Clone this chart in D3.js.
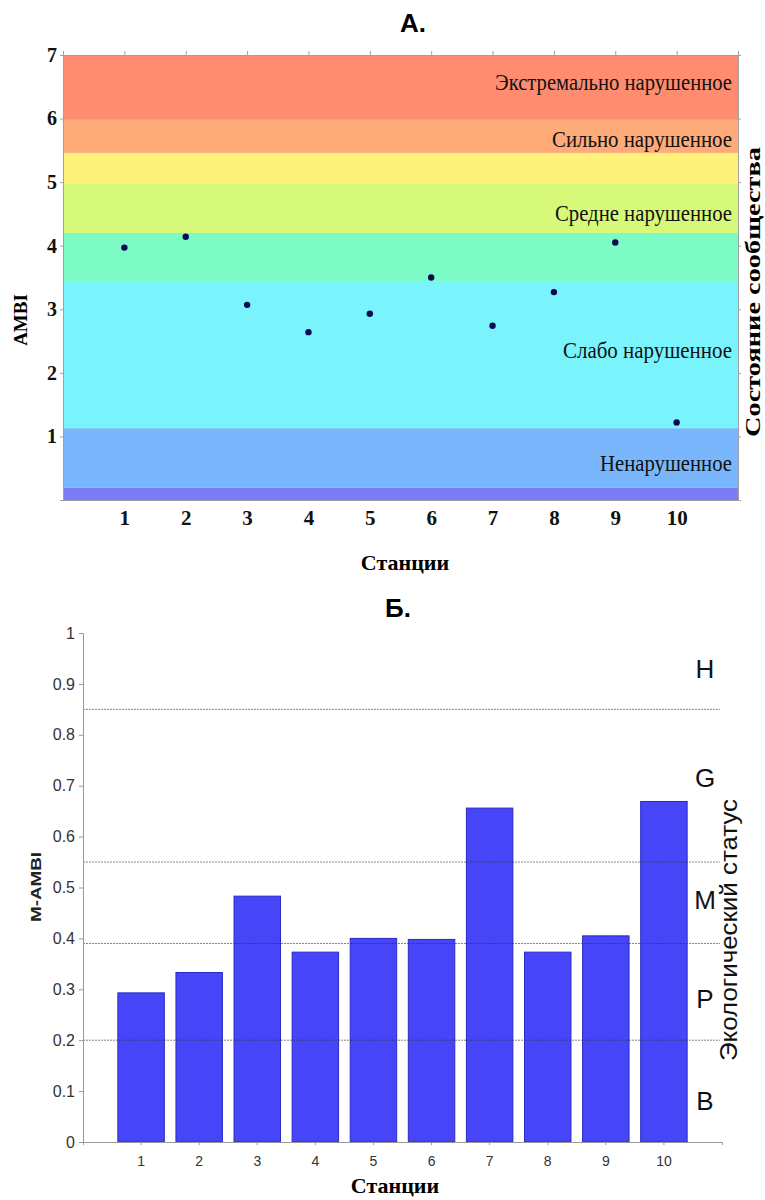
<!DOCTYPE html>
<html>
<head>
<meta charset="utf-8">
<script src="https://cdn.jsdelivr.net/npm/d3@7"></script>
<style>
  body { margin: 0; background: #fff; }
  svg { display: block; }
</style>
</head>
<body>
<div id="chart"></div>
<script>
// AMBI / M-AMBI by station: two stacked panels (А. and Б.)

// --- data ---
const stations = ['1', '2', '3', '4', '5', '6', '7', '8', '9', '10'];

// panel А: AMBI per station
const ambiValues = [3.97, 4.14, 3.07, 2.64, 2.93, 3.50, 2.74, 3.27, 4.05, 1.22];
const ambiTicks = [1, 2, 3, 4, 5, 6, 7];
// zone boundaries, bottom to top
const ambiZoneBreaks = [0, 0.19, 1.13, 3.43, 4.2, 4.97, 5.46, 5.98, 7];
const ambiZoneLabels = ['Экстремально нарушенное', 'Сильно нарушенное', 'Средне нарушенное', 'Слабо нарушенное', 'Ненарушенное'];
const ambiZoneLabelLevels = [6.45, 5.56, 4.39, 2.23, 0.46];

// panel Б: M-AMBI per station
const mambiValues = [0.293, 0.333, 0.483, 0.373, 0.400, 0.398, 0.656, 0.373, 0.405, 0.669];
const mambiTicks = [0, 0.1, 0.2, 0.3, 0.4, 0.5, 0.6, 0.7, 0.8, 0.9, 1];
const mambiTickLabels = ['0', '0.1', '0.2', '0.3', '0.4', '0.5', '0.6', '0.7', '0.8', '0.9', '1'];
const mambiThresholds = [0.2, 0.39, 0.55, 0.85];
const statusLetters = ['H', 'G', 'M', 'P', 'B'];
const statusLevels = [0.93, 0.715, 0.475, 0.28, 0.08];

// --- styles ---
const zoneColors = ['#7b7cf6', '#79b6fc', '#79f4fc', '#7cfbc6', '#d7f97a', '#fef27b', '#feab79', '#fe8c70'];
const serif = "'Liberation Serif', 'Times New Roman', serif";
const sans = "'Liberation Sans', Arial, sans-serif";

const svg = d3.select('#chart')
  .append('svg')
  .attr('width', 765)
  .attr('height', 1200)
  .attr('style', 'background-color:white');

// drawAmbiPanel()
// coloured zones with the station dots on top
function drawAmbiPanel(svg) {
  const x = d3.scaleLinear().domain([0, 11]).range([63, 738]);
  const y = d3.scaleLinear().domain([0, 7]).range([500, 55]);

  const zones = d3.range(ambiZoneBreaks.length - 1).map(i => [ambiZoneBreaks[i], ambiZoneBreaks[i + 1]]);
  svg.append('g')
    .selectAll('rect')
    .data(zones)
    .join('rect')
    .attr('x', x(0))
    .attr('width', x(11) - x(0))
    .attr('y', d => y(d[1]))
    .attr('height', d => y(d[0]) - y(d[1]))
    .attr('fill', (d, i) => zoneColors[i]);

  // zone names, right aligned inside the plot
  const labelWidths = [237, 180, 177, 169, 132];
  svg.append('g')
    .selectAll('text')
    .data(ambiZoneLabels)
    .join('text')
    .attr('x', (d, i) => x(11) - 6 - labelWidths[i])
    .attr('y', (d, i) => y(ambiZoneLabelLevels[i]))
    .attr('textLength', (d, i) => labelWidths[i])
    .attr('lengthAdjust', 'spacingAndGlyphs')
    .attr('font-family', serif)
    .attr('font-size', 23)
    .attr('fill', '#111')
    .text(d => d);

  // frame axes
  const left = svg.append('g')
    .attr('transform', `translate(${x(0)},0)`)
    .call(d3.axisLeft(y).tickValues(ambiTicks).tickSize(3).tickPadding(3).tickFormat(d3.format('d')));
  left.selectAll('text').attr('font-family', serif).attr('font-size', 20).attr('font-weight', 'bold').attr('fill', '#111');

  const top = svg.append('g')
    .attr('transform', `translate(0,${y(7)})`)
    .call(d3.axisTop(x).tickValues(stations.map(Number)).tickSize(4).tickFormat(''));
  const right = svg.append('g')
    .attr('transform', `translate(${x(11)},0)`)
    .call(d3.axisRight(y).tickValues(ambiTicks).tickSize(3).tickFormat(''));
  const bottom = svg.append('g')
    .attr('transform', `translate(0,${y(0)})`)
    .call(d3.axisBottom(x).tickValues(stations.map(Number)).tickSize(0).tickPadding(10));
  bottom.selectAll('text').attr('font-family', serif).attr('font-size', 21).attr('font-weight', 'bold').attr('fill', '#111');

  [left, top, right, bottom].forEach(g => {
    g.selectAll('.domain').attr('stroke', '#a0a0a0');
    g.selectAll('.tick line').attr('stroke', '#a0a0a0');
  });

  // station dots
  svg.append('g')
    .selectAll('circle')
    .data(ambiValues)
    .join('circle')
    .attr('cx', (d, i) => x(+stations[i]))
    .attr('cy', d => y(d))
    .attr('r', 3.2)
    .attr('fill', '#0b0b55');

  svg.append('text')
    .attr('x', 413).attr('y', 23)
    .attr('text-anchor', 'middle').attr('dominant-baseline', 'central')
    .attr('font-family', sans).attr('font-weight', 'bold').attr('font-size', 26)
    .text('А.');

  svg.append('text')
    .attr('transform', 'translate(20,320) rotate(-90)')
    .attr('text-anchor', 'middle').attr('dominant-baseline', 'central')
    .attr('font-family', serif).attr('font-weight', 'bold').attr('font-size', 19)
    .text('AMBI');

  svg.append('text')
    .attr('transform', 'translate(753,292) rotate(-90)')
    .attr('text-anchor', 'middle').attr('dominant-baseline', 'central')
    .attr('textLength', 290)
    .attr('lengthAdjust', 'spacingAndGlyphs')
    .attr('font-family', serif).attr('font-weight', 'bold').attr('font-size', 21)
    .text('Состояние сообщества');

  svg.append('text')
    .attr('x', 405).attr('y', 562)
    .attr('text-anchor', 'middle').attr('dominant-baseline', 'central')
    .attr('font-family', serif).attr('font-weight', 'bold').attr('font-size', 22)
    .text('Станции');
}

// drawMambiPanel()
// bar chart with the status threshold lines
function drawMambiPanel(svg) {
  const x = d3.scaleBand().domain(stations).range([83, 722]).paddingInner(0.2).paddingOuter(0.6);
  const y = d3.scaleLinear().domain([0, 1]).range([1142, 633]);

  svg.append('g')
    .selectAll('rect')
    .data(mambiValues)
    .join('rect')
    .attr('x', (d, i) => x(stations[i]))
    .attr('width', x.bandwidth())
    .attr('y', d => y(d))
    .attr('height', d => y(0) - y(d))
    .attr('fill', '#4646f8')
    .attr('stroke', '#2a2ac4')
    .attr('stroke-width', 1);

  // threshold lines between status classes
  svg.append('g')
    .selectAll('line')
    .data(mambiThresholds)
    .join('line')
    .attr('x1', 83).attr('x2', 720)
    .attr('y1', d => y(d)).attr('y2', d => y(d))
    .attr('stroke', '#333')
    .attr('stroke-opacity', 0.6)
    .attr('stroke-dasharray', '2,1');

  const left = svg.append('g')
    .attr('transform', 'translate(83,0)')
    .call(d3.axisLeft(y).tickValues(mambiTicks).tickSize(4).tickPadding(4).tickFormat((d, i) => mambiTickLabels[i]));
  left.selectAll('text').attr('font-family', sans).attr('font-size', 16).attr('fill', '#333');

  const bottom = svg.append('g')
    .attr('transform', `translate(0,${y(0)})`)
    .call(d3.axisBottom(x).tickSize(3).tickPadding(11));
  bottom.selectAll('text').attr('font-family', sans).attr('font-size', 14).attr('fill', '#333');

  [left, bottom].forEach(g => {
    g.selectAll('.domain').attr('stroke', '#999');
    g.selectAll('.tick line').attr('stroke', '#999');
  });

  svg.append('g')
    .selectAll('text')
    .data(statusLetters)
    .join('text')
    .attr('x', 705)
    .attr('y', (d, i) => y(statusLevels[i]))
    .attr('text-anchor', 'middle').attr('dominant-baseline', 'central')
    .attr('font-family', sans).attr('font-size', 26).attr('fill', '#111')
    .text(d => d);

  svg.append('text')
    .attr('x', 398).attr('y', 608)
    .attr('text-anchor', 'middle').attr('dominant-baseline', 'central')
    .attr('font-family', sans).attr('font-weight', 'bold').attr('font-size', 26)
    .text('Б.');

  svg.append('text')
    .attr('transform', 'translate(35,887) rotate(-90)')
    .attr('text-anchor', 'middle').attr('dominant-baseline', 'central')
    .attr('textLength', 70)
    .attr('lengthAdjust', 'spacingAndGlyphs')
    .attr('font-family', sans).attr('font-weight', 'bold').attr('font-size', 15).attr('fill', '#222')
    .text('M-AMBI');

  svg.append('text')
    .attr('transform', 'translate(729,930) rotate(-90)')
    .attr('text-anchor', 'middle').attr('dominant-baseline', 'central')
    .attr('textLength', 262)
    .attr('lengthAdjust', 'spacingAndGlyphs')
    .attr('font-family', sans).attr('font-size', 23).attr('fill', '#111')
    .text('Экологический статус');

  svg.append('text')
    .attr('x', 395).attr('y', 1185)
    .attr('text-anchor', 'middle').attr('dominant-baseline', 'central')
    .attr('font-family', serif).attr('font-weight', 'bold').attr('font-size', 22)
    .text('Станции');
}

drawAmbiPanel(svg);
drawMambiPanel(svg);
</script>
</body>
</html>
